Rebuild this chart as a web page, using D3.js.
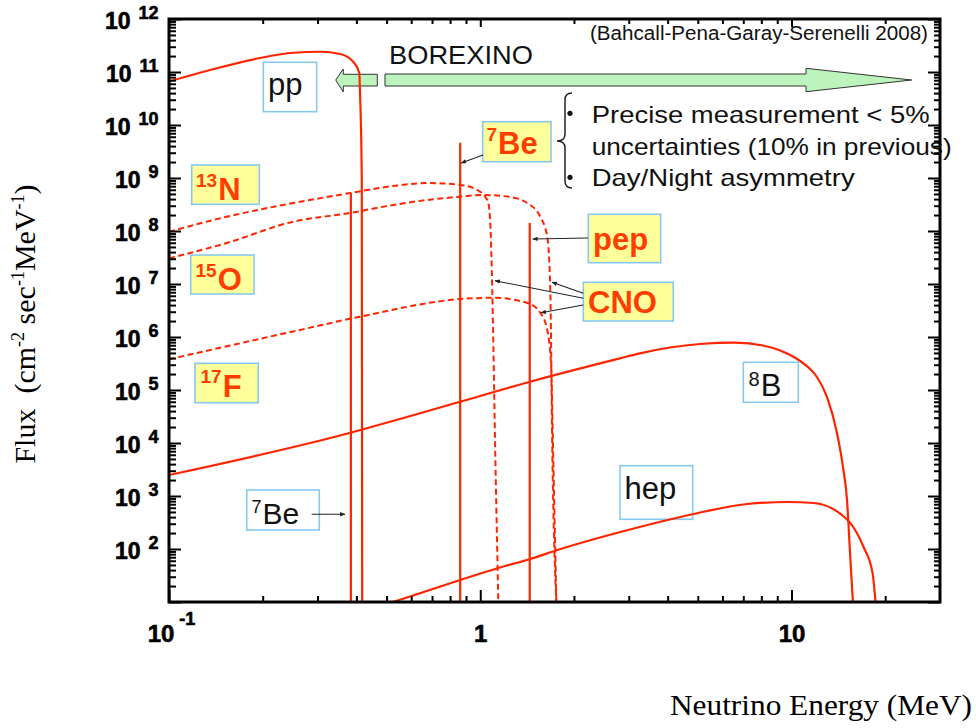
<!DOCTYPE html>
<html>
<head>
<meta charset="utf-8">
<script src="https://cdn.jsdelivr.net/npm/d3@7/dist/d3.min.js"></script>
<style>
  html, body { margin: 0; padding: 0; background: #fff; }
  svg { display: block; }
</style>
</head>
<body>
<svg id="chart" width="976" height="728"></svg>
<script>
// Solar neutrino spectra (standard solar model, BPS 2008)
// continuum sources: [energy (MeV), flux (cm^-2 s^-1 MeV^-1)]
const ppSpectrum = [[0.1, 6.6e10], [0.1355, 1.09e11], [0.196, 1.84e11], [0.2506, 2.31e11], [0.3059, 2.41e11],
  [0.3548, 2.19e11], [0.3907, 1.56e11], [0.4085, 9.6e10], [0.4113, 3.4e10], [0.4163, 9.2e8], [0.4175, 10]];
const n13Spectrum = [[0.1, 9.7e7], [0.1533, 1.86e8], [0.2506, 3.37e8], [0.382, 5.2e8], [0.525, 7.06e8],
  [0.676, 8.05e8], [0.862, 7.4e8], [0.978, 5.94e8], [1.038, 4.38e8], [1.061, 3.37e8], [1.077, 1.42e8],
  [1.093, 7.7e6], [1.117, 7.4e3], [1.143, 10]];
const o15Spectrum = [[0.1, 3.05e7], [0.1533, 5.94e7], [0.2506, 1.5e8], [0.382, 2.19e8], [0.525, 3.1e8],
  [0.676, 3.85e8], [0.862, 4.44e8], [1.022, 4.78e8], [1.249, 4.38e8], [1.416, 3.37e8], [1.56, 1.84e8],
  [1.642, 7.7e7], [1.679, 7.7e6], [1.704, 7.4e3], [1.756, 10]];
const f17Spectrum = [[0.1, 3.8e5], [0.2636, 1.36e6], [0.411, 2.42e6], [0.862, 5.2e6], [1.101, 5.5e6],
  [1.416, 4.39e6], [1.56, 2.84e6], [1.642, 1.36e6], [1.69, 2.7e5], [1.714, 7.4e3], [1.756, 10]];
const b8Spectrum = [[0.1, 2.49e3], [0.3295, 1.24e4], [0.862, 6.0e4], [1.445, 1.435e5], [2.81, 3.96e5],
  [3.26, 4.92e5], [4.07, 6.34e5], [5.08, 7.38e5], [6.59, 7.81e5], [8.10, 6.92e5], [9.19, 5.56e5],
  [10.42, 3.85e5], [11.47, 2.49e5], [12.07, 1.76e5], [13.0, 7.38e4], [14.0, 1.55e4], [14.64, 3.5e3],
  [15.08, 841], [15.4, 96], [15.75, 10]];
const hepSpectrum = [[0.525, 10], [0.862, 26], [1.143, 43.9], [1.448, 64.7], [1.769, 95.7], [2.82, 209],
  [4.40, 402], [7.22, 707], [9.70, 771], [11.77, 738], [15.14, 352], [17.04, 109], [18.22, 35], [18.62, 10]];

// monoenergetic lines: energy (MeV) and flux (cm^-2 s^-1)
const lineNames = ["7Be", "7Be", "pep"];
const lineEnergies = [0.384, 0.862, 1.442];
const lineFluxes = [5.2e8, 4.6e9, 1.42e8];

// axis ticks
const xMajorTicks = [0.1, 1, 10];
const xTickBase = ["10", "1", "10"];
const xTickExp = ["-1", "", ""];
const yExponents = [1, 2, 3, 4, 5, 6, 7, 8, 9, 10, 11, 12];
const yLabelExponents = [2, 3, 4, 5, 6, 7, 8, 9, 10, 11, 12];

const SANS = "'Liberation Sans', Arial, sans-serif";
const SERIF = "'Liberation Serif', 'Times New Roman', serif";
const RED = "#ff2400";
const LABEL_RED = "#ff3d00";
const BOX_BLUE = "#86c8f2";
const BOX_YELLOW = "#ffff9c";

const svg = d3.select("#chart");
const plot = { left: 169, right: 940, top: 19, bottom: 602 };

const x = d3.scaleLog().domain([0.1, 30]).range([plot.left, plot.right]);
const y = d3.scaleLog().domain([10, 1e12]).range([plot.bottom, plot.top]);

svg.append("defs").append("clipPath").attr("id", "plot-clip")
  .append("rect").attr("x", plot.left).attr("y", plot.top)
  .attr("width", plot.right - plot.left).attr("height", plot.bottom - plot.top);

const marker = svg.select("defs").append("marker")
  .attr("id", "tip").attr("viewBox", "0 0 10 10").attr("refX", 9).attr("refY", 5)
  .attr("markerWidth", 5).attr("markerHeight", 5).attr("orient", "auto-start-reverse");
marker.append("path").attr("d", "M0,1 L10,5 L0,9 Z").attr("fill", "#222");

// ---- BOREXINO range arrows
const arrowG = svg.append("g").attr("fill", "#bdf3bd").attr("stroke", "#333").attr("stroke-width", 1);
arrowG.append("polygon").attr("points", "335.7,80 343.3,69 343.3,74.3 377.3,74.3 377.3,86 343.3,86 343.3,92");
arrowG.append("polygon").attr("points", "385,74 806,74 806,68.3 911.7,80 806,91.7 806,86 385,86");

svg.append("text").attr("x", 389).attr("y", 64)
  .attr("textLength", 144).attr("lengthAdjust", "spacingAndGlyphs")
  .style("font-family", SANS).style("font-size", "26px").attr("fill", "#111").text("BOREXINO");

svg.append("text").attr("x", 590).attr("y", 39.5)
  .attr("textLength", 338).attr("lengthAdjust", "spacingAndGlyphs")
  .style("font-family", SANS).style("font-size", "20px").attr("fill", "#111")
  .text("(Bahcall-Pena-Garay-Serenelli 2008)");

// ---- label boxes
function box(bx, by, bw, bh, fill) {
  svg.append("rect").attr("x", bx).attr("y", by).attr("width", bw).attr("height", bh)
    .attr("fill", fill).attr("stroke", BOX_BLUE).attr("stroke-width", 1.6);
}
function isotope(tx, ty, sup, main, opts) {
  const t = svg.append("text").attr("x", tx).attr("y", ty)
    .style("font-family", SANS).style("font-weight", opts.bold ? "bold" : "normal")
    .attr("fill", opts.color);
  if (sup) {
    t.append("tspan").style("font-size", opts.supSize + "px").attr("dy", -opts.raise).text(sup);
    t.append("tspan").style("font-size", opts.size + "px").attr("dy", opts.raise).attr("dx", opts.gap || 0).text(main);
  } else {
    t.append("tspan").style("font-size", opts.size + "px").text(main);
  }
}
const hot = { bold: true, color: LABEL_RED, size: 31, supSize: 19, raise: 13.5, gap: 1 };
const plain = { bold: false, color: "#111", size: 31, supSize: 20, raise: 10, gap: 1 };

box(263.3, 62.3, 53.4, 49.4, "#fff");      isotope(268, 95, "", "pp", plain);
box(191.7, 165, 67.6, 39.3, BOX_YELLOW);   isotope(196, 200, "13", "N", hot);
box(190.7, 255, 63.3, 39, BOX_YELLOW);     isotope(195.5, 290, "15", "O", hot);
box(195, 363.3, 63.3, 39.4, BOX_YELLOW);   isotope(200.5, 396.7, "17", "F", hot);
box(482.7, 121.7, 68.3, 40, BOX_YELLOW);   isotope(486.5, 154, "7", "Be", hot);
box(588.3, 214.3, 72.4, 48.4, BOX_YELLOW); isotope(593, 249.5, "", "pep", hot);
box(583.3, 282.3, 90, 38.7, BOX_YELLOW);   isotope(588, 313, "", "CNO", hot);
box(743.3, 362.3, 55, 40, "#fff");         isotope(748.5, 395.7, "8", "B", plain);
box(620, 465.7, 72.7, 53.6, "#fff");       isotope(624.5, 499.3, "", "hep", plain);
box(246.7, 490, 72.6, 40, "#fff");         isotope(251.5, 524, "7", "Be", { bold: false, color: "#111", size: 30, supSize: 18, raise: 11, gap: 1 });

// ---- bracket and bullet notes
svg.append("path")
  .attr("d", "M572,93 Q565,93 565,100 L565,134 Q565,141 557,141 Q565,141 565,148 L565,181 Q565,188 572,188")
  .attr("fill", "none").attr("stroke", "#222").attr("stroke-width", 1.5);
svg.append("circle").attr("cx", 570).attr("cy", 113.3).attr("r", 2.6).attr("fill", "#111");
svg.append("circle").attr("cx", 570).attr("cy", 177.3).attr("r", 2.6).attr("fill", "#111");
[["Precise measurement < 5%", 122.7, 338], ["uncertainties (10% in previous)", 154.5, 360], ["Day/Night asymmetry", 185.5, 263]]
  .forEach(([s, by, len]) => {
    svg.append("text").attr("x", 591.7).attr("y", by)
      .attr("textLength", len).attr("lengthAdjust", "spacingAndGlyphs")
      .style("font-family", SANS).style("font-size", "24px").attr("fill", "#111").text(s);
  });

// ---- spectra
const curves = svg.append("g").attr("clip-path", "url(#plot-clip)").attr("fill", "none").attr("stroke", RED);
const line = d3.line().x(d => x(d[0])).y(d => y(d[1])).curve(d3.curveMonotoneX);

[ppSpectrum, b8Spectrum, hepSpectrum].forEach(s => {
  curves.append("path").attr("d", line(s)).attr("stroke-width", 2.2);
});
[n13Spectrum, o15Spectrum, f17Spectrum].forEach(s => {
  curves.append("path").attr("d", line(s)).attr("stroke-width", 2).attr("stroke-dasharray", "6,3.5");
});
lineEnergies.forEach((e, i) => {
  curves.append("line").attr("class", "line-" + lineNames[i])
    .attr("x1", x(e)).attr("x2", x(e)).attr("y1", y(lineFluxes[i])).attr("y2", y(10))
    .attr("stroke-width", 2.2);
});

// ---- leader lines
const leaders = [
  [483, 155, x(0.862) + 1, 163],
  [588, 238, x(1.442) + 3, 239],
  [583.3, 293.3, 552, 282.3],
  [583.3, 298.3, 495, 280.7],
  [583.3, 305, 541, 312.7],
  [311.7, 514.3, 345, 514.3]
];
leaders.forEach(([x1, y1, x2, y2]) => {
  svg.append("line").attr("x1", x1).attr("y1", y1).attr("x2", x2).attr("y2", y2)
    .attr("stroke", "#222").attr("stroke-width", 1.1).attr("marker-end", "url(#tip)");
});

// ---- axes: ticks point inward on all four sides
const xMinor = [];
for (let e = -1; e <= 1; e++) for (let k = 2; k <= 9; k++) { const v = k * Math.pow(10, e); if (v < 30) xMinor.push(v); }
const yMinor = [];
for (let e = 1; e <= 11; e++) for (let k = 2; k <= 9; k++) yMinor.push(k * Math.pow(10, e));
const yMajor = yExponents.map(e => Math.pow(10, e));

function tickSet(axis, tr, values, size) {
  const g = svg.append("g").attr("transform", tr)
    .call(axis.tickValues(values).tickSizeInner(size).tickSizeOuter(0).tickFormat(""));
  g.select(".domain").remove();
  g.selectAll("line").attr("stroke", "#000").attr("stroke-width", 2);
}
tickSet(d3.axisBottom(x), `translate(0,${plot.bottom})`, xMajorTicks, -12);
tickSet(d3.axisBottom(x), `translate(0,${plot.bottom})`, xMinor, -6);
tickSet(d3.axisTop(x), `translate(0,${plot.top})`, xMajorTicks, -8);
tickSet(d3.axisTop(x), `translate(0,${plot.top})`, xMinor, -5);
tickSet(d3.axisLeft(y), `translate(${plot.left},0)`, yMajor, -12);
tickSet(d3.axisLeft(y), `translate(${plot.left},0)`, yMinor, -7);
tickSet(d3.axisRight(y), `translate(${plot.right},0)`, yMajor, -12);
tickSet(d3.axisRight(y), `translate(${plot.right},0)`, yMinor, -6);

svg.append("rect").attr("x", plot.left).attr("y", plot.top)
  .attr("width", plot.right - plot.left).attr("height", plot.bottom - plot.top)
  .attr("fill", "none").attr("stroke", "#000").attr("stroke-width", 3);

// tick labels (heavy bold)
yLabelExponents.forEach(e => {
  const t = svg.append("text").attr("x", 158.5).attr("y", y(Math.pow(10, e)) + 9.7)
    .attr("text-anchor", "end").style("font-family", SANS).style("font-weight", "bold")
    .attr("fill", "#000").attr("stroke", "#000").attr("stroke-width", 0.6);
  t.append("tspan").style("font-size", "23px").text("10");
  t.append("tspan").style("font-size", "18px").attr("dx", 8).attr("dy", -10).text(String(e));
});
xMajorTicks.forEach((v, i) => {
  const t = svg.append("text").attr("x", x(v) + (xTickExp[i] ? 2.5 : 0.5)).attr("y", 641.7)
    .attr("text-anchor", "middle").style("font-family", SANS).style("font-weight", "bold")
    .attr("fill", "#000").attr("stroke", "#000").attr("stroke-width", 0.6);
  t.append("tspan").style("font-size", "24px").text(xTickBase[i]);
  if (xTickExp[i]) t.append("tspan").style("font-size", "18px").attr("dx", 5).attr("dy", -16.5).text(xTickExp[i]);
});

// axis titles
svg.append("text").attr("x", 670).attr("y", 715)
  .attr("textLength", 302).attr("lengthAdjust", "spacingAndGlyphs")
  .style("font-family", SERIF).style("font-size", "29px").attr("fill", "#000")
  .text("Neutrino Energy (MeV)");

const yt = svg.append("text").attr("transform", "translate(35,324) rotate(-90)")
  .attr("text-anchor", "middle").style("font-family", SERIF).style("font-size", "30px").attr("fill", "#000");
yt.append("tspan").text("Flux\u00a0\u00a0(cm");
yt.append("tspan").style("font-size", "18px").attr("dy", -11).text("-2");
yt.append("tspan").attr("dy", 11).text("\u00a0sec");
yt.append("tspan").style("font-size", "18px").attr("dy", -11).text("-1");
yt.append("tspan").attr("dy", 11).text("MeV");
yt.append("tspan").style("font-size", "18px").attr("dy", -11).text("-1");
yt.append("tspan").attr("dy", 11).text(")");
</script>
</body>
</html>
